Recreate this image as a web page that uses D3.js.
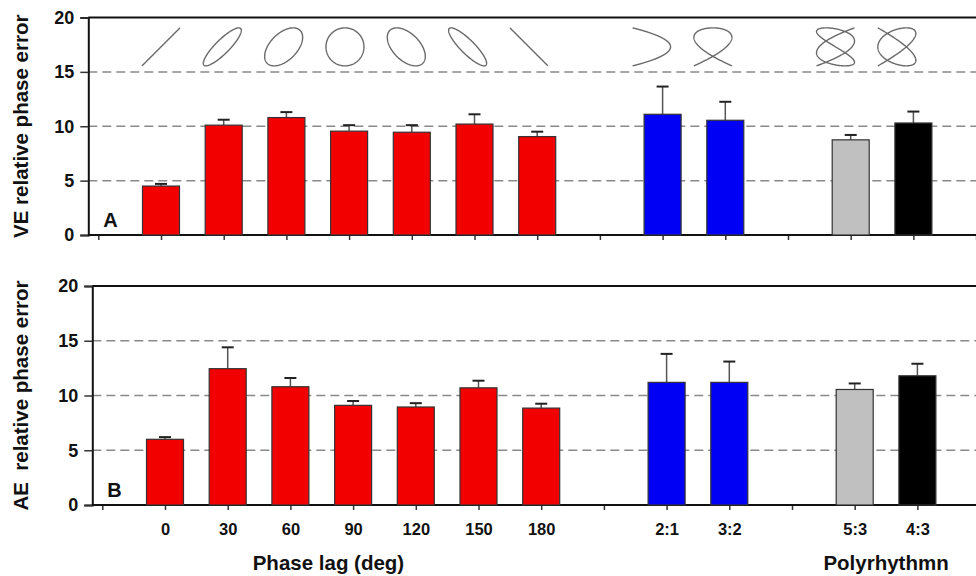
<!DOCTYPE html>
<html><head><meta charset="utf-8">
<script src="https://cdn.jsdelivr.net/npm/d3@7"></script>
<style>body{margin:0;background:#fff}svg{display:block;font-family:"Liberation Sans",Arial,sans-serif}</style>
</head><body><svg id="c" width="976" height="576"></svg>
<script>
// ---------- data ----------
const categories = ["_s0","0","30","60","90","120","150","180","_s1","2:1","3:2","_s2","5:3","4:3","_s3"];
const barCategories = ["0","30","60","90","120","150","180","2:1","3:2","5:3","4:3"];
const barGroups = ["phase","phase","phase","phase","phase","phase","phase","poly","poly","poly53","poly43"];
const veValues = [4.5,10.1,10.8,9.55,9.45,10.2,9.05,11.1,10.55,8.75,10.3];
const veUpper  = [4.7,10.6,11.3,10.1,10.1,11.1,9.5,13.65,12.25,9.2,11.35];
const aeValues = [6.0,12.45,10.8,9.1,8.95,10.7,8.85,11.2,11.2,10.55,11.8];
const aeUpper  = [6.2,14.4,11.6,9.5,9.3,11.35,9.25,13.8,13.1,11.1,12.9];
const yTicks = [0,5,10,15,20];
const gridValues = [5,10,15];
const figures = [
  {cat:"0", type:"phase", phase:0},
  {cat:"30", type:"phase", phase:30},
  {cat:"60", type:"phase", phase:60},
  {cat:"90", type:"phase", phase:90},
  {cat:"120", type:"phase", phase:120},
  {cat:"150", type:"phase", phase:150},
  {cat:"180", type:"phase", phase:180},
  {cat:"2:1", type:"poly", nx:2, ny:1},
  {cat:"3:2", type:"poly", nx:3, ny:2},
  {cat:"5:3", type:"poly", nx:5, ny:3},
  {cat:"4:3", type:"poly", nx:4, ny:3}
];
const colors = {phase:"#f20000", poly:"#0000f5", poly53:"#c0c0c0", poly43:"#000000"};

const svg = d3.select("#c");
const W = 976;
const step = 62.7;

function panel(opts){
  const g = svg.append("g");
  const x = d3.scalePoint().domain(categories).range([opts.x0, opts.x0 + step*(categories.length-1)]);
  const y = d3.scaleLinear().domain([0,20]).range([opts.yBottom, opts.yTop]);
  const left = opts.x0 - 10;
  // gridlines
  g.selectAll(".grid").data(gridValues).join("line")
    .attr("x1", left).attr("x2", W).attr("y1", d=>y(d)).attr("y2", d=>y(d))
    .attr("stroke","#8a8a8a").attr("stroke-width",1.5).attr("stroke-dasharray","9,5");
  // top border
  g.append("line").attr("x1",left).attr("x2",W).attr("y1",y(20)).attr("y2",y(20))
    .attr("stroke","#111").attr("stroke-width",2);
  // y axis
  const yAxis = d3.axisLeft(y).tickValues(yTicks).tickSize(8).tickPadding(6);
  const ya = g.append("g").attr("transform",`translate(${left},0)`).call(yAxis);
  ya.select(".domain").attr("stroke","#111").attr("stroke-width",2);
  ya.selectAll(".tick line").attr("stroke","#333").attr("stroke-width",1.5);
  ya.selectAll("text").attr("font-size",18).attr("font-weight","bold").attr("fill","#111")
    .attr("font-family","'Liberation Sans',Arial,sans-serif");
  // x axis
  const xAxis = d3.axisBottom(x).tickSize(5).tickPadding(13)
    .tickFormat(d => d.startsWith("_") ? "" : (opts.labels ? d : ""));
  const xa = g.append("g").attr("transform",`translate(0,${y(0)})`).call(xAxis);
  xa.select(".domain").remove();
  xa.append("line").attr("x1",left).attr("x2",W).attr("stroke","#111").attr("stroke-width",2);
  xa.selectAll(".tick line").attr("stroke","#333").attr("stroke-width",1.5);
  xa.selectAll("text").attr("font-size",16.5).attr("font-weight","bold").attr("fill","#111")
    .attr("font-family","'Liberation Sans',Arial,sans-serif");
  // bars
  const bw = 37;
  const vals = opts.values, ups = opts.upper;
  const bars = g.append("g");
  bars.selectAll("line.err").data(barCategories).join("line")
    .attr("x1",d=>x(d)).attr("x2",d=>x(d))
    .attr("y1",(d,i)=>y(vals[i])).attr("y2",(d,i)=>y(ups[i]))
    .attr("stroke","#555").attr("stroke-width",1.5);
  bars.selectAll("line.cap").data(barCategories).join("line")
    .attr("x1",d=>x(d)-6).attr("x2",d=>x(d)+6)
    .attr("y1",(d,i)=>y(ups[i])).attr("y2",(d,i)=>y(ups[i]))
    .attr("stroke","#222").attr("stroke-width",2);
  bars.selectAll("rect").data(barCategories).join("rect")
    .attr("x",d=>x(d)-bw/2).attr("width",bw)
    .attr("y",(d,i)=>y(vals[i])).attr("height",(d,i)=>y(0)-y(vals[i]))
    .attr("fill",(d,i)=>colors[barGroups[i]])
    .attr("stroke","#333").attr("stroke-width",1.2);
  // panel letter
  g.append("text").attr("x",left+15).attr("y",y(0)-8).text(opts.letter)
    .attr("font-size",20).attr("font-weight","bold").attr("fill","#111");
  // y title
  g.append("text").attr("transform",`translate(28,${(y(0)+y(20))/2}) rotate(-90)`)
    .attr("text-anchor","middle").attr("font-size",20.5).attr("font-weight","bold").attr("fill","#111")
    .attr("xml:space","preserve").text(opts.title);
  return {x,y,g};
}

const topP = panel({x0:98.3, yTop:17.5, yBottom:235, values:veValues, upper:veUpper, labels:false, letter:"A", title:"VE relative phase error"});
const botP = panel({x0:102.3, yTop:286, yBottom:505, values:aeValues, upper:aeUpper, labels:true, letter:"B", title:"AE  relative phase error"});

// Lissajous figures in top panel
const figY = topP.y(17.3), r = 19;
const xFirst = topP.x("0");
const lineGen = d3.line();
function cheb(n, s){ return Math.cos(n*Math.acos(Math.max(-1,Math.min(1,s)))); }
figures.forEach(f => {
  const cx = xFirst + (topP.x(f.cat) - xFirst) * 0.978;
  let pts = [];
  if (f.type === "phase") {
    const ph = f.phase*Math.PI/180;
    for (let k=0;k<=200;k++){ const t = k/200*2*Math.PI; pts.push([Math.sin(t), -Math.sin(t+ph)]); }
  } else {
    for (let k=0;k<=300;k++){ const s = -1 + 2*k/300; 
      let px, py;
      if (f.nx===2){ px = 1-2*s*s; py = s; }
      else if (f.nx===3){ px = cheb(3,s); py = cheb(2,s); }
      else if (f.nx===5){ px = cheb(5,s); py = -cheb(3,s); }
      else { px = -cheb(4,s); py = cheb(3,s); }
      pts.push([px,py]); }
  }
  svg.append("path").attr("d", lineGen(pts.map(p=>[cx+p[0]*r, figY+p[1]*r])))
    .attr("fill","none").attr("stroke","#6a6a6a").attr("stroke-width",1.4);
});

// x titles
svg.append("text").attr("x", (botP.x("90")+botP.x("120"))/2 - 56).attr("y",570).attr("text-anchor","middle")
  .attr("font-size",20.5).attr("font-weight","bold").attr("fill","#111").text("Phase lag (deg)");
svg.append("text").attr("x", (botP.x("5:3")+botP.x("4:3"))/2).attr("y",570).attr("text-anchor","middle")
  .attr("font-size",20.5).attr("font-weight","bold").attr("fill","#111").text("Polyrhythmn");
</script></body></html>
